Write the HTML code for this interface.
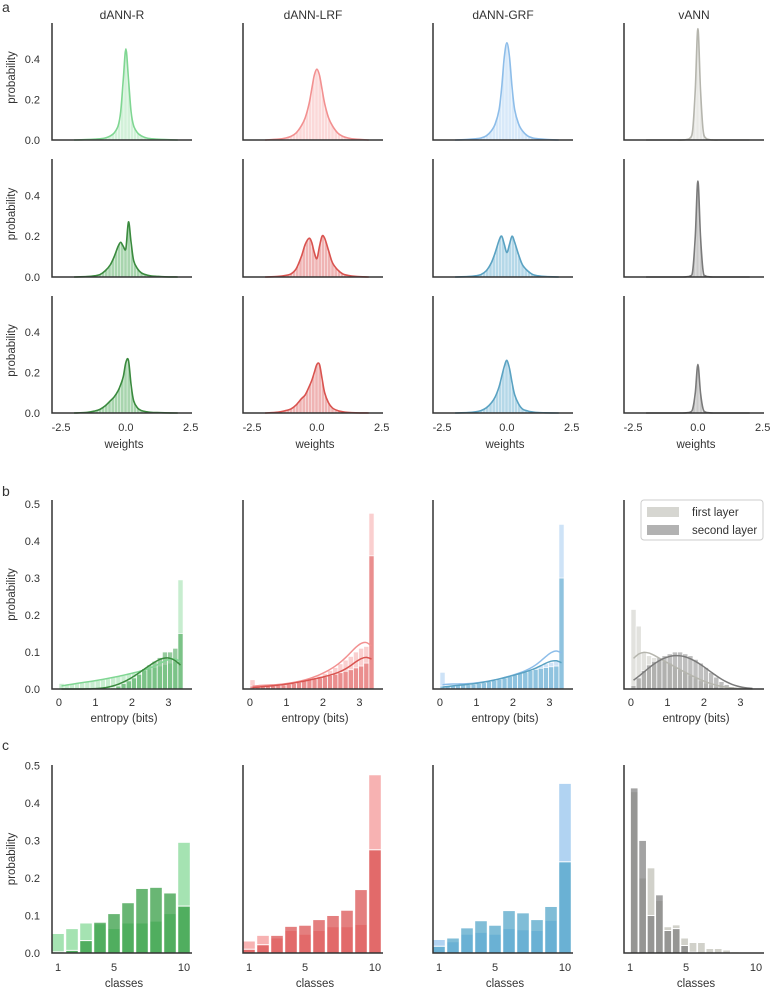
<!DOCTYPE html>
<html><head><meta charset="utf-8"><style>
html,body{margin:0;padding:0;background:#fff;}
svg{display:block;font-family:"Liberation Sans",sans-serif;}
</style></head><body>
<svg id="fig" width="771" height="991" viewBox="0 0 771 991"></svg>
<script>
// ---------- data ----------
const models = ['dANN-R','dANN-LRF','dANN-GRF','vANN'];
const weightGrid = [-2,-1.5,-1.2,-1,-0.8,-0.6,-0.45,-0.3,-0.2,-0.1,0,0.1,0.2,0.3,0.45,0.6,0.8,1,1.2,1.5,2];
const wR1 = [0,.002,.004,.006,.01,.02,.035,.07,.14,.3,.45,.3,.14,.07,.035,.02,.01,.006,.004,.002,0];
const wL1 = [0,.004,.01,.018,.035,.07,.11,.18,.25,.32,.35,.32,.25,.18,.11,.07,.035,.018,.01,.004,0];
const wG1 = [0,.003,.006,.01,.02,.045,.08,.15,.26,.41,.48,.41,.26,.15,.08,.045,.02,.01,.006,.003,0];
const wV1 = [0,0,0,0,0,0,.002,.01,.05,.25,.55,.25,.05,.01,.002,0,0,0,0,0,0];
const wR2 = [0,.002,.006,.012,.03,.06,.1,.15,.17,.15,.14,.27,.17,.08,.04,.02,.01,.005,.003,.001,0];
const wL2 = [0,.003,.008,.015,.04,.1,.16,.19,.17,.12,.09,.15,.2,.19,.13,.07,.035,.015,.008,.003,0];
const wG2 = [0,.002,.006,.012,.03,.07,.12,.18,.2,.16,.12,.16,.2,.17,.11,.06,.03,.012,.006,.002,0];
const wV2 = [0,0,0,0,0,0,.001,.005,.03,.2,.47,.2,.03,.005,.001,0,0,0,0,0,0];
const wR3 = [0,.003,.01,.018,.035,.06,.08,.11,.14,.18,.25,.26,.14,.06,.025,.012,.006,.003,.002,.001,0];
const wL3 = [0,.004,.012,.02,.04,.07,.09,.13,.16,.2,.24,.24,.17,.1,.05,.025,.012,.006,.003,.001,0];
const wG3 = [0,.002,.006,.012,.025,.05,.08,.13,.18,.23,.26,.22,.15,.09,.045,.02,.01,.005,.002,.001,0];
const wV3 = [0,0,0,0,0,0,.001,.004,.02,.1,.24,.1,.02,.004,.001,0,0,0,0,0,0];
const weightTicks = [-2.5,0,2.5];
const weightTickLabels = ['-2.5','0.0','2.5'];
const probTicksA = [0,0.2,0.4];
const probTickLabelsA = ['0.0','0.2','0.4'];

const entropyBinWidth = 0.1417;
const eR1 = [0.015,0.012,0.013,0.015,0.017,0.019,0.021,0.023,0.025,0.028,0.031,0.034,0.037,0.04,0.043,0.047,0.05,0.054,0.058,0.062,0.066,0.07,0.075,0.295];
const eR2 = [0,0,0,0,0,0,0,0,0,0,0.003,0.008,0.015,0.022,0.03,0.04,0.055,0.065,0.075,0.085,0.1,0.1,0.11,0.15];
const eL1 = [0.025,0.008,0.008,0.009,0.01,0.011,0.012,0.014,0.016,0.019,0.022,0.026,0.03,0.035,0.042,0.05,0.058,0.068,0.078,0.088,0.1,0.11,0.115,0.475];
const eL2 = [0.008,0.005,0.006,0.007,0.008,0.01,0.011,0.013,0.015,0.018,0.021,0.024,0.027,0.03,0.033,0.037,0.04,0.044,0.048,0.052,0.057,0.062,0.07,0.36];
const eG1 = [0.045,0.01,0.01,0.011,0.012,0.013,0.014,0.016,0.018,0.02,0.023,0.026,0.03,0.034,0.038,0.043,0.048,0.053,0.058,0.063,0.068,0.072,0.075,0.445];
const eG2 = [0.008,0.008,0.009,0.01,0.011,0.012,0.013,0.015,0.017,0.02,0.023,0.026,0.03,0.034,0.038,0.042,0.046,0.05,0.053,0.056,0.058,0.06,0.062,0.3];
const eV1 = [0.215,0.17,0.1,0.09,0.085,0.08,0.075,0.07,0.06,0.052,0.045,0.037,0.03,0.022,0.016,0.011,0.007,0.004,0.002,0.001,0.001,0,0,0];
const eV2 = [0.01,0.03,0.05,0.065,0.075,0.085,0.09,0.095,0.1,0.1,0.095,0.09,0.08,0.07,0.058,0.045,0.032,0.02,0.012,0.006,0.003,0.001,0,0];
const entropyTicks = [0,1,2,3];
const probTicksB = [0,0.1,0.2,0.3,0.4,0.5];
const probTickLabelsB = ['0.0','0.1','0.2','0.3','0.4','0.5'];

const classes = [1,2,3,4,5,6,7,8,9,10];
const cR1 = [0.052,0.065,0.08,0.078,0.065,0.08,0.08,0.085,0.105,0.295];
const cR2 = [0.003,0.007,0.033,0.082,0.105,0.134,0.172,0.175,0.16,0.125];
const cL1 = [0.032,0.047,0.04,0.06,0.05,0.06,0.07,0.07,0.076,0.475];
const cL2 = [0.01,0.022,0.047,0.071,0.074,0.089,0.1,0.114,0.169,0.275];
const cG1 = [0.036,0.03,0.05,0.055,0.05,0.065,0.062,0.06,0.087,0.452];
const cG2 = [0.018,0.04,0.067,0.086,0.074,0.113,0.107,0.089,0.124,0.243];
const vClasses = [1.3,1.9,2.5,3.1,3.7,4.3,4.9,5.5,6.1,6.7,7.3,7.9,8.5,9.1,9.7];
const cV1 = [0.43,0.2,0.227,0.14,0.07,0.075,0.04,0.028,0.028,0.012,0.012,0.008,0.003,0.002,0.002];
const cV2 = [0.44,0.3,0.1,0.155,0.06,0.065,0.02,0.002,0,0,0,0,0,0,0];
const classTicks = [1,5,10];

// ---------- styles ----------
const colX = [52,243,433,624];
const PW = 140;
const palette = [
  {light:'#8fdc9f', lightLine:'#7fd692', dark:'#2f9a3f', darkLine:'#3a8a3e'},
  {light:'#f59f9f', lightLine:'#f29090', dark:'#d94d4d', darkLine:'#d9534f'},
  {light:'#9ec8ef', lightLine:'#8dbde9', dark:'#4fa3c7', darkLine:'#5aa2c2'},
  {light:'#c5c5bd', lightLine:'#b5b5ad', dark:'#7f7f7f', darkLine:'#7a7a7a'}
];
const svg = document.getElementById('fig');
const NS = 'http://www.w3.org/2000/svg';
const defs = document.createElementNS(NS,'defs');
svg.appendChild(defs);
function mk(tag, attrs, parent){
  const e = document.createElementNS(NS, tag);
  for (const k in attrs) e.setAttribute(k, attrs[k]);
  (parent||svg).appendChild(e);
  return e;
}
function txt(x,y,s,size,anchor,parent){
  const t = mk('text',{x:x,y:y,'font-size':size,'text-anchor':anchor||'middle',fill:'#333'},parent);
  t.textContent = s;
  return t;
}
function spline(pts){
  let d = 'M'+pts[0][0].toFixed(2)+','+pts[0][1].toFixed(2);
  for (let i=0;i<pts.length-1;i++){
    const p0 = pts[i-1]||pts[i], p1=pts[i], p2=pts[i+1], p3=pts[i+2]||pts[i+1];
    const c1x=p1[0]+(p2[0]-p0[0])/6, c1y=p1[1]+(p2[1]-p0[1])/6;
    const c2x=p2[0]-(p3[0]-p1[0])/6, c2y=p2[1]-(p3[1]-p1[1])/6;
    d += ' C'+c1x.toFixed(2)+','+c1y.toFixed(2)+' '+c2x.toFixed(2)+','+c2y.toFixed(2)+' '+p2[0].toFixed(2)+','+p2[1].toFixed(2);
  }
  return d;
}
function axes(g,x0,top,bottom,name){
  const a = mk('path',{d:'M'+x0+','+top+' L'+x0+','+bottom+' L'+(x0+PW)+','+bottom,fill:'none',stroke:'#333','stroke-width':1.5},g);
  
  
}
function ylabel(x,y,g){
  const t = mk('text',{x:0,y:0,'font-size':11.5,'text-anchor':'middle',fill:'#333',transform:'translate('+x+','+y+') rotate(-90)'},g);
  t.textContent = 'probability';
  
  
}
function panelLetter(s,y){
  const t = txt(2,y,s,14,'start');
  
  
}

// ---------- section a ----------
panelLetter('a',12);
const aTops=[23,159,296], aBots=[140,277,413];
const wMin=-2.85, wMax=2.55, aYMax=0.578;
const aData = [[wR1,wL1,wG1,wV1],[wR2,wL2,wG2,wV2],[wR3,wL3,wG3,wV3]];
models.forEach((m,c)=>{
  const t = txt(colX[c]+70,19,m,12);
  
  
});
for (let r=0;r<3;r++){
  for (let c=0;c<4;c++){
    const g = mk('g',{});
    
    
    const x0=colX[c], top=aTops[r], bot=aBots[r];
    const xs = w => x0 + (w-wMin)/(wMax-wMin)*PW;
    const ys = p => bot - p/aYMax*(bot-top);
    const vals = aData[r][c];
    const pts = weightGrid.map((w,i)=>[xs(w), Math.min(bot, ys(vals[i]))]);
    const col = palette[c];
    const fillC = r===0?col.light:col.dark, lineC = r===0?col.lightLine:col.darkLine;
    const line = spline(pts);
    const areaD = line+' L'+pts[pts.length-1][0]+','+bot+' L'+pts[0][0]+','+bot+' Z';
    const cp = mk('clipPath',{id:'clipA'+r+c},defs);
    mk('path',{d:areaD},cp);
    const area = mk('path',{d:areaD,fill:fillC,'fill-opacity':r===0?0.4:0.42,stroke:'none'},g);
    
    
    const sep = mk('g',{'clip-path':'url(#clipA'+r+c+')'},g);
    for (let x=x0+1.5;x<x0+PW;x+=3.2){
      mk('line',{x1:x,y1:top,x2:x,y2:bot,stroke:'#fff','stroke-width':0.6,'stroke-opacity':0.8},sep);
    }
    const kde = mk('path',{d:line,fill:'none',stroke:lineC,'stroke-width':1.6},g);
    
    
    axes(g,x0,top,bot,'weights');
    if (c===0){
      probTicksA.forEach((p,i)=>{
        const t = txt(x0-12,ys(p)+4,probTickLabelsA[i],11,'end',g);
        
        
      });
      ylabel(15,(top+bot)/2-4,g);
    }
    if (r===2){
      weightTicks.forEach((w,i)=>{
        const t = txt(xs(w),bot+18,weightTickLabels[i],11,'middle',g);
        
        
      });
      const t = txt(x0+72,bot+35,'weights',11.5,'middle',g);
      
      
    }
  }
}

// ---------- section b ----------
panelLetter('b',496);
const bTop=500, bBot=689, eMin=-0.19, eMax=3.645, bYMax=0.511;
const bData = [[eR1,eR2],[eL1,eL2],[eG1,eG2],[eV1,eV2]];
function smooth(vals){
  // kernel density-like smoothing without boundary renormalisation
  const out=[]; const s=2.6; const norm = 1/(Math.sqrt(2*Math.PI)*s);
  for (let i=0;i<vals.length;i++){
    let sum=0;
    for (let j=0;j<vals.length;j++){ sum+=Math.exp(-0.5*((i-j)/s)**2)*vals[j]; }
    out.push(sum*norm);
  }
  return out;
}
for (let c=0;c<4;c++){
  const g = mk('g',{});
  
  
  const x0=colX[c];
  const xs = e => x0 + (e-eMin)/(eMax-eMin)*PW;
  const ys = p => bBot - p/bYMax*(bBot-bTop);
  const col = palette[c];
  [0,1].forEach(layer=>{
    const vals = bData[c][layer];
    const fillC = layer===0?col.light:col.dark;
    vals.forEach((v,i)=>{
      const xa = xs(i*entropyBinWidth), xb = xs((i+1)*entropyBinWidth);
      const b = mk('rect',{x:xa,y:ys(v),width:xb-xa,height:bBot-ys(v),fill:fillC,'fill-opacity':layer===0?0.5:0.5,stroke:'#fff','stroke-width':0.7},g);
      
      
    });
  });
  [0,1].forEach(layer=>{
    const sm = smooth(bData[c][layer]);
    const pts = sm.map((v,i)=>[xs((i+0.5)*entropyBinWidth), ys(v)]);
    const k = mk('path',{d:spline(pts),fill:'none',stroke:layer===0?col.lightLine:col.darkLine,'stroke-width':1.5},g);
    
    
  });
  axes(g,x0,bTop,bBot,'entropy');
  entropyTicks.forEach(e=>{
    const t = txt(xs(e),bBot+17,String(e),11,'middle',g);
    
    
  });
  const t = txt(x0+72,bBot+33,'entropy (bits)',11.5,'middle',g);
  
  
  if (c===0){
    probTicksB.forEach((p,i)=>{
      const tt = txt(x0-12,ys(p)+4,probTickLabelsB[i],11,'end',g);
      
      
    });
    ylabel(15,(bTop+bBot)/2,g);
  }
}
// legend
const lg = mk('g',{});


const lbox = mk('rect',{x:641,y:500,width:122,height:40,rx:3,fill:'#fff',stroke:'#ccc','stroke-width':1},lg);


const lp1 = mk('rect',{x:647,y:507,width:32,height:10,fill:palette[3].light,'fill-opacity':0.7},lg);


const lp2 = mk('rect',{x:647,y:525,width:32,height:10,fill:palette[3].dark,'fill-opacity':0.6},lg);


const lt1 = txt(692,516,'first layer',11.5,'start',lg);


const lt2 = txt(692,534,'second layer',11.5,'start',lg);



// ---------- section c ----------
panelLetter('c',750);
const cTop=765, cBot=953, kMin=0.571, kMax=10.571, cYMax=0.501;
const cData = [[cR1,cR2],[cL1,cL2],[cG1,cG2],[cV1,cV2]];
for (let c=0;c<4;c++){
  const g = mk('g',{});
  
  
  const x0=colX[c];
  const xs = k => x0 + (k-kMin)/(kMax-kMin)*PW;
  const ys = p => cBot - p/cYMax*(cBot-cTop);
  const col = palette[c];
  const pos = c===3 ? vClasses : classes;
  const bw = c===3 ? 0.55 : 0.9;
  [0,1].forEach(layer=>{
    const vals = cData[c][layer];
    vals.forEach((v,i)=>{
      if (v<=0) return;
      const xa = xs(pos[i]-bw/2), xb = xs(pos[i]+bw/2);
      const b = mk('rect',{x:xa,y:ys(v),width:xb-xa,height:cBot-ys(v),fill:layer===0?col.light:col.dark,'fill-opacity':layer===0?0.8:0.72,stroke:'#fff','stroke-width':1},g);
      
      
    });
  });
  axes(g,x0,cTop,cBot,'classes');
  classTicks.forEach(k=>{
    const t = txt(xs(k),cBot+18,String(k),11,'middle',g);
    
    
  });
  const t = txt(x0+72,cBot+34,'classes',11.5,'middle',g);
  
  
  if (c===0){
    probTicksB.forEach((p,i)=>{
      const tt = txt(x0-12,ys(p)+4,probTickLabelsB[i],11,'end',g);
      
      
    });
    ylabel(15,(cTop+cBot)/2,g);
  }
}
</script>
</body></html>
